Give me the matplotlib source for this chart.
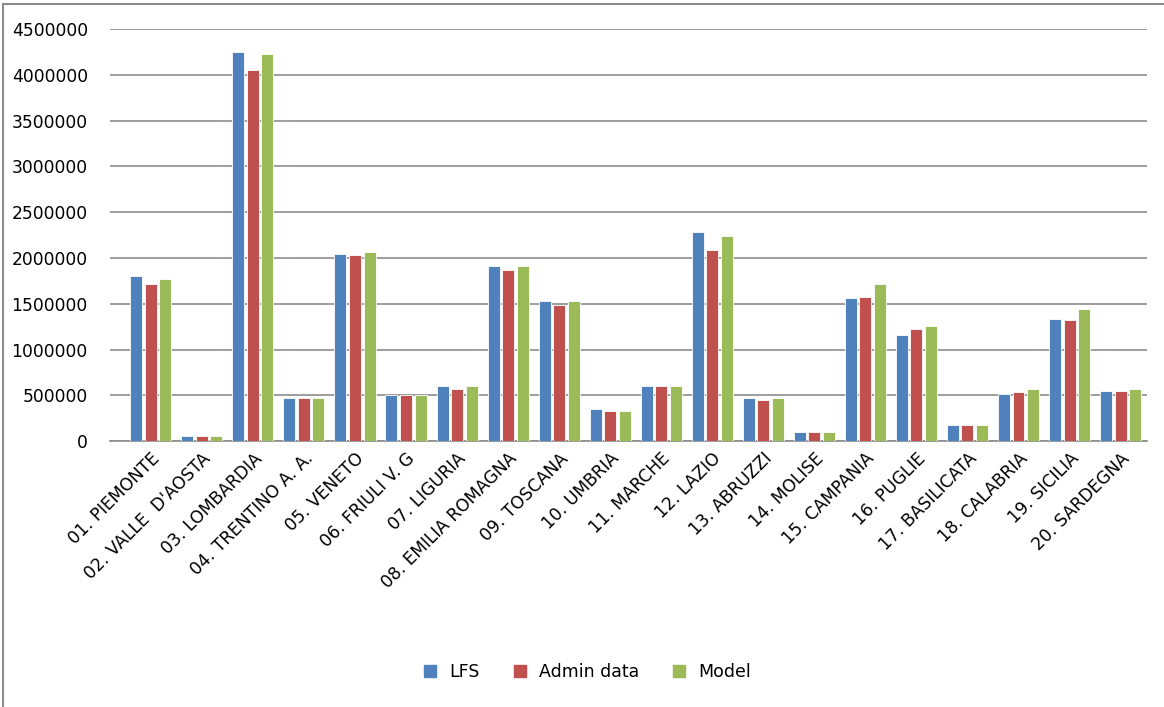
import matplotlib

matplotlib.use("Agg")
import matplotlib.pyplot as plt
import numpy as np
from matplotlib.lines import Line2D

regions = [
    "01. PIEMONTE", "02. VALLE  D'AOSTA", "03. LOMBARDIA", "04. TRENTINO A. A.",
    "05. VENETO", "06. FRIULI V. G", "07. LIGURIA", "08. EMILIA ROMAGNA",
    "09. TOSCANA", "10. UMBRIA", "11. MARCHE", "12. LAZIO", "13. ABRUZZI",
    "14. MOLISE", "15. CAMPANIA", "16. PUGLIE", "17. BASILICATA",
    "18. CALABRIA", "19. SICILIA", "20. SARDEGNA",
]
lfs = [1800000, 55000, 4245000, 471000, 2047000, 500000, 606000, 1909000,
       1533000, 350000, 606000, 2288000, 471000, 95000, 1558000, 1161000,
       175000, 511000, 1339000, 551000]
admin = [1716000, 55000, 4050000, 471000, 2029000, 500000, 569000, 1872000,
         1482000, 332000, 606000, 2088000, 449000, 95000, 1577000, 1223000,
         175000, 533000, 1321000, 551000]
model = [1770000, 55000, 4226000, 471000, 2069000, 500000, 606000, 1909000,
         1533000, 332000, 606000, 2245000, 471000, 95000, 1716000, 1259000,
         175000, 569000, 1438000, 569000]
series = ["LFS", "Admin data", "Model"]
colors = ["#4F81BD", "#C0504D", "#9BBB59"]

fig = plt.figure(figsize=(11.64, 7.07), dpi=100)
ax = fig.add_axes([0.0945, 0.376, 0.891, 0.583])

x = np.arange(len(regions))
w = 0.235
for i, (vals, col, name) in enumerate(zip([lfs, admin, model], colors, series)):
    ax.bar(x + (i - 1) * 0.285, vals, width=w, color=col, edgecolor="white",
           linewidth=0.6, label=name, zorder=3)

ax.set_xlim(-0.8, len(regions) - 0.48)
ax.set_ylim(0, 4500000)
ax.set_yticks(np.arange(0, 4500001, 500000))
ax.set_yticklabels([str(v) for v in range(0, 4500001, 500000)])
ax.grid(axis="y", color="#8c8c8c", linewidth=1.2, zorder=0)
for s in ["top", "right", "left"]:
    ax.spines[s].set_visible(False)
ax.spines["bottom"].set_color("#8c8c8c")
ax.spines["bottom"].set_linewidth(1.2)
ax.tick_params(axis="y", length=0, pad=16, labelsize=12.3)
ax.tick_params(axis="x", length=0, pad=6, labelsize=12.3)
ax.set_xticks(x)
ax.set_xticklabels(regions, rotation=45, ha="right", rotation_mode="anchor")

handles = [Line2D([], [], marker="s", linestyle="none", markersize=9,
                  markerfacecolor=c, markeredgecolor=c) for c in colors]
fig.legend(handles, series, loc="center", bbox_to_anchor=(0.5, 0.049), ncol=3,
           frameon=False, fontsize=12.5, handletextpad=0.1, columnspacing=1.3)

# chart frame (top and left edges visible)
fig.add_artist(Line2D([0.003, 1.0], [0.994, 0.994], color="#8c8c8c", linewidth=1.5))
fig.add_artist(Line2D([0.003, 0.003], [0.0, 0.994], color="#8c8c8c", linewidth=1.5))

fig.savefig("out.png", dpi=100)
